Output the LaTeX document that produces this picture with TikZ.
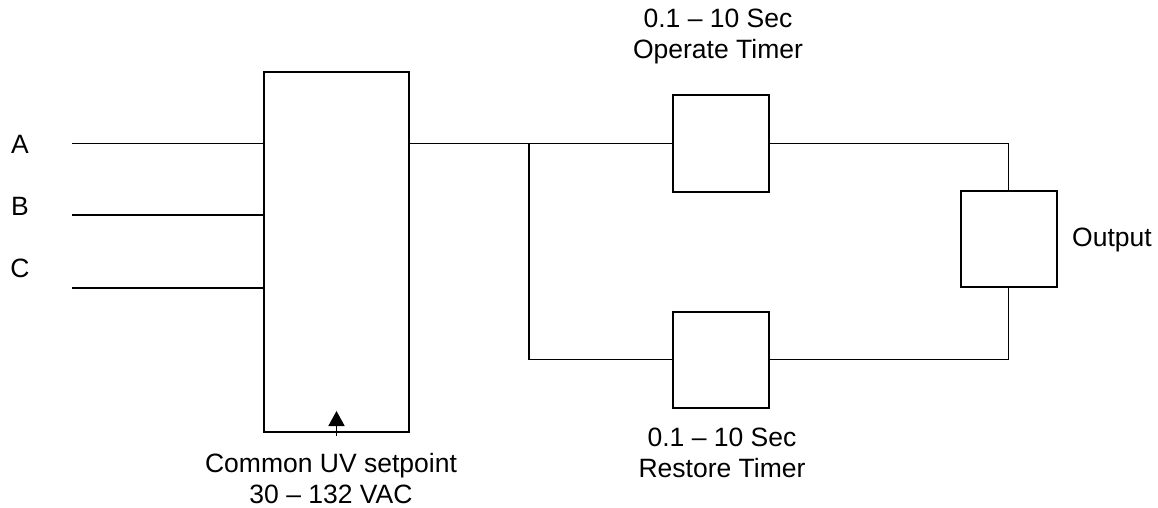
\documentclass[tikz,border=0pt]{standalone}
\usepackage{fontspec}
\setmainfont{Liberation Sans}
\usetikzlibrary{arrows.meta}

\begin{document}
\begin{tikzpicture}[x=1pt,y=-1pt,
  blk/.style={rectangle,draw=black,line width=2pt,inner sep=0pt},
  wire/.style={line width=1.8pt},
  lbl/.style={inner sep=0pt,align=center,font=\fontsize{26.5}{31}\selectfont}]
\useasboundingbox (0,0) rectangle (1158,508);
\node(Main) at (336.5,252) [blk,minimum width=145pt,minimum height=360pt]{};
\node(Op) at (720.5,143.5) [blk,minimum width=96pt,minimum height=96pt]{};
\node(Rs) at (720.5,359.5) [blk,minimum width=96pt,minimum height=96pt]{};
\node(Out) at (1008.5,239) [blk,minimum width=96pt,minimum height=96pt]{};
\node(LA) at (20,144) [lbl]{A};
\node(LB) at (20,206) [lbl]{B};
\node(LC) at (20,268) [lbl]{C};
\node(OpT) at (718,36) [lbl]{0.1 – 10 Sec\\Operate Timer};
\node(RsT) at (722,453) [lbl]{0.1 – 10 Sec\\Restore Timer};
\node(SetT) at (331,479) [lbl]{Common UV setpoint\\30 – 132 VAC};
\node(OutT) at (1072,240) [lbl,anchor=west]{Output};
\coordinate(InA) at (72,143.5);
\coordinate(InB) at (72,215.3);
\coordinate(InC) at (72,287.7);
\coordinate(Split) at (528.7,143.5);
\coordinate(SetBase) at (336.5,436);
\coordinate(SetTip) at (336.5,411);
\draw[wire] (InA) -- (InA -| Main.west);
\draw[wire] (InB) -- (InB -| Main.west);
\draw[wire] (InC) -- (InC -| Main.west);
\draw[wire] (Main.east |- Op.west) -- (Op.west);
\draw[wire] (Split) |- (Rs.west);
\draw[wire] (Op.east) -| (Out.north);
\draw[wire] (Rs.east) -| (Out.south);
\draw[wire,-{Triangle[length=15pt,width=16pt]}] (SetBase) -- (SetTip);
\end{tikzpicture}
\end{document}
